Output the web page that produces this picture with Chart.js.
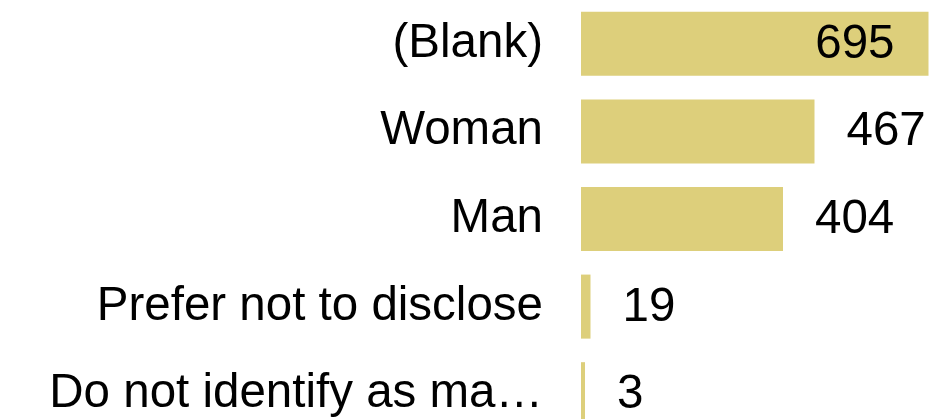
<!DOCTYPE html>
<html>
<head>
<meta charset="utf-8">
<script src="https://cdn.jsdelivr.net/npm/chart.js@4"></script>
<style>
  html, body { margin: 0; padding: 0; background: #fff; overflow: hidden; }
  #wrap { position: relative; width: 930px; height: 438px; }
</style>
</head>
<body>
<div id="wrap"><canvas id="genderChart"></canvas></div>
<script>
const categories = ["(Blank)", "Woman", "Man", "Prefer not to disclose", "Do not identify as man or woman"];
const counts = [695, 467, 404, 19, 3];
const xMax = 698;

const barColor = "#DDCF7B";
const fontFamily = "'Liberation Sans', Arial, sans-serif";
const fontSize = 47.5;

// long labels are cut with an ellipsis, like the original
function shorten(label) {
  return label.length > 24 ? label.slice(0, 21) + "\u2026" : label;
}

// value labels next to the bars, inside when there is no room
const valueLabels = {
  id: "valueLabels",
  afterDatasetsDraw(chart) {
    const ctx = chart.ctx;
    const area = chart.chartArea;
    const meta = chart.getDatasetMeta(0);
    ctx.save();
    ctx.font = fontSize + "px " + fontFamily;
    ctx.fillStyle = "#000";
    ctx.textBaseline = "middle";
    meta.data.forEach((bar, i) => {
      const text = String(counts[i]);
      const w = ctx.measureText(text).width;
      if (bar.x + 32 + w > area.right) {
        ctx.textAlign = "right";
        ctx.fillText(text, bar.x - 34, bar.y + 1);
      } else {
        ctx.textAlign = "left";
        ctx.fillText(text, bar.x + 32, bar.y + 1);
      }
    });
    ctx.restore();
  },
};

const ctx = document.getElementById("genderChart").getContext("2d");
new Chart(ctx, {
  type: "bar",
  data: {
    labels: categories,
    datasets: [
      {
        data: counts,
        backgroundColor: barColor,
        borderWidth: 0,
        categoryPercentage: 1,
        barPercentage: 0.731,
        minBarLength: 4,
      },
    ],
  },
  options: {
    indexAxis: "y",
    responsive: true,
    maintainAspectRatio: false,
    animation: false,
    layout: { padding: 0 },
    plugins: {
      legend: { display: false },
      tooltip: { enabled: false },
    },
    scales: {
      x: {
        display: false,
        min: 0,
        max: xMax,
      },
      y: {
        afterFit(scale) {
          scale.width = 581;
          scale.paddingTop = 0;
          scale.paddingBottom = 0;
        },
        grid: { display: false, drawTicks: false },
        border: { display: false },
        ticks: {
          padding: 38,
          autoSkip: false,
          color: "#000",
          font: { family: fontFamily, size: fontSize },
          callback: function (value) {
            return shorten(this.getLabelForValue(value));
          },
        },
      },
    },
  },
  plugins: [valueLabels],
});
</script>
</body>
</html>
